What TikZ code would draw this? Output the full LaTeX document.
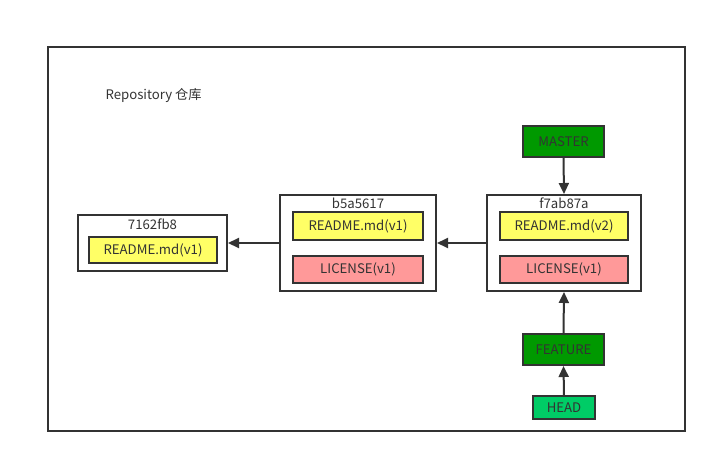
\documentclass[tikz,border=0pt]{standalone}
\usepackage{fontspec}
\setmainfont{Noto Sans CJK SC}
\usetikzlibrary{arrows.meta}
\definecolor{ln}{HTML}{333333}
\definecolor{fileyellow}{HTML}{FFFF66}
\definecolor{filepink}{HTML}{FF9999}
\definecolor{branchgreen}{HTML}{009900}
\definecolor{headgreen}{HTML}{00CC66}
\begin{document}
\begin{tikzpicture}[x=1pt,y=-1pt,
  every node/.style={font=\fontsize{13.2}{15}\selectfont, text=ln},
  box/.style={draw=ln, line width=2pt, fill=white},
  file/.style={draw=ln, line width=2pt},
  ptr/.style={draw=ln, line width=2pt, -{Triangle[length=11pt,width=10pt]}}]
\useasboundingbox (0,0) rectangle (717,463);
\draw[draw=ln, line width=2pt] (48,47) rectangle (685,431);
\node[anchor=west] (title) at (102,95) {Repository 仓库};
% commit 7162fb8
\node[box, minimum width=149pt, minimum height=56pt, inner sep=0pt] (c1) at (152.5,243) {};
\node (c1l) at (152.5,224) {7162fb8};
\node[file, fill=fileyellow, minimum width=128pt, minimum height=26pt, inner sep=0pt] (c1r) at (153,250) {README.md(v1)};
% commit b5a5617
\node[box, minimum width=156pt, minimum height=96pt, inner sep=0pt] (c2) at (358,243) {};
\node (c2l) at (358,203.5) {b5a5617};
\node[file, fill=fileyellow, minimum width=130pt, minimum height=28pt, inner sep=0pt] (c2r) at (358,226) {README.md(v1)};
\node[file, fill=filepink, minimum width=130pt, minimum height=27pt, inner sep=0pt] (c2c) at (358,269.5) {LICENSE(v1)};
% commit f7ab87a
\node[box, minimum width=154pt, minimum height=96pt, inner sep=0pt] (c3) at (564,243) {};
\node (c3l) at (564,203) {f7ab87a};
\node[file, fill=fileyellow, minimum width=128pt, minimum height=28pt, inner sep=0pt] (c3r) at (564,226) {README.md(v2)};
\node[file, fill=filepink, minimum width=128pt, minimum height=27pt, inner sep=0pt] (c3c) at (564,269.5) {LICENSE(v1)};
% branches
\node[file, fill=branchgreen, minimum width=81pt, minimum height=31pt, inner sep=0pt] (master) at (563.5,141.5) {MASTER};
\node[file, fill=branchgreen, minimum width=81pt, minimum height=31pt, inner sep=0pt] (feature) at (563.5,349.5) {FEATURE};
\node[file, line width=1.5pt, fill=headgreen, minimum width=62pt, minimum height=23pt, inner sep=0pt] (head) at (564,407.5) {HEAD};
% arrows
\draw[ptr] (c2.west) -- (c1.east);
\draw[ptr] (c3.west) -- (c2.east);
\draw[ptr] (master.south) -- (c3.north);
\draw[ptr] (feature.north) -- (c3.south);
\draw[ptr] (head.north) -- (feature.south);
\end{tikzpicture}
\end{document}
